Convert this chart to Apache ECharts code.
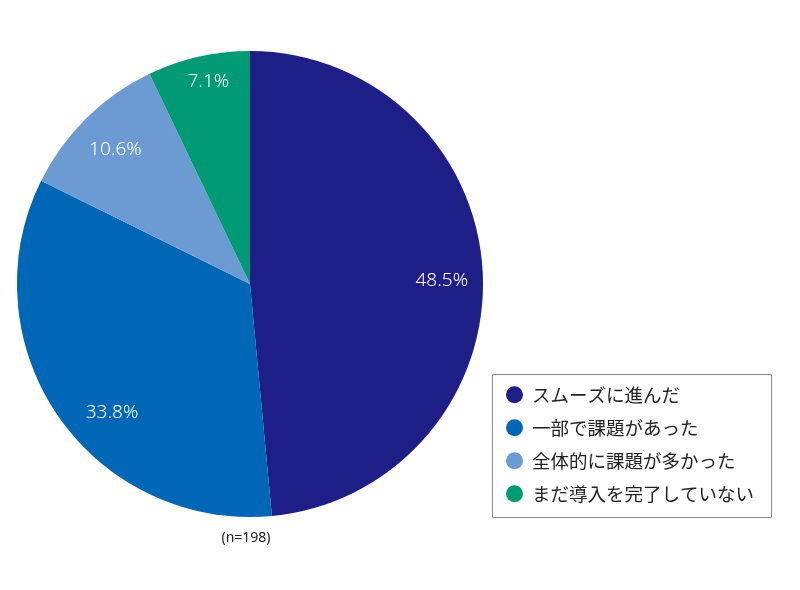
<!DOCTYPE html>
<html>
<head>
<meta charset="utf-8">
<script src="https://cdn.jsdelivr.net/npm/echarts@6/dist/echarts.min.js"></script>
<style>
  html, body { margin: 0; padding: 0; background: #fff; }
  #chart { width: 800px; height: 590px; }
</style>
</head>
<body>
<div id="chart"></div>
<script>
const categories = ['スムーズに進んだ', '一部で課題があった', '全体的に課題が多かった', 'まだ導入を完了していない'];
const shares = [48.5, 33.8, 10.6, 7.1];
const colors = ['#1e1e87', '#0066b6', '#6b9bd2', '#009a74'];
const sampleNote = '(n=198)';

// small nudges so the percentage labels sit where the original put them
const labelNudge = [[-1, 6], [21, 19], [1, 3], [1, -14]];

const jpFont = '"Noto Sans CJK JP", "Noto Sans", sans-serif';

echarts.init(document.getElementById('chart'))
    .setOption({
        animation: false,
        legend: {
            orient: 'vertical',
            left: 501,
            top: 380.5,
            icon: 'circle',
            itemWidth: 17,
            itemHeight: 17,
            itemGap: 14.5,
            selectedMode: false,
            data: categories,
            textStyle: {
                fontFamily: jpFont,
                fontSize: 18.5,
                color: '#222',
                padding: [0, 0, 0, 4]
            }
        },
        graphic: [
            {
                type: 'rect',
                shape: { x: 492.5, y: 374.5, width: 279, height: 143 },
                style: { fill: 'none', stroke: '#8a8a8a', lineWidth: 1 },
                silent: true
            },
            {
                type: 'text',
                x: 246,
                y: 538,
                style: {
                    text: sampleNote,
                    fontFamily: '"Noto Sans", sans-serif',
                    fontSize: 14,
                    fill: '#222',
                    align: 'center',
                    verticalAlign: 'middle'
                }
            }
        ],
        series: [
            {
                type: 'pie',
                center: [250, 284],
                radius: [0, 233],
                startAngle: 90,
                silent: true,
                label: { show: false },
                labelLine: { show: false },
                data: categories.map((name, i) => ({
                    name: name,
                    value: shares[i],
                    itemStyle: { color: colors[i] }
                }))
            },
            {
                type: 'pie',
                center: [250, 284],
                radius: [147, 233],
                startAngle: 90,
                silent: true,
                itemStyle: { color: 'rgba(0,0,0,0)' },
                label: {
                    show: true,
                    position: 'inside',
                    formatter: p => p.value.toFixed(1) + '%',
                    color: '#fff',
                    fontFamily: '"Noto Sans", sans-serif',
                    fontWeight: 300,
                    fontSize: 19
                },
                labelLine: { show: false },
                data: categories.map((name, i) => ({
                    name: name,
                    value: shares[i],
                    itemStyle: { color: 'rgba(0,0,0,0)' },
                    label: { offset: labelNudge[i] }
                }))
            }
        ]
    });
</script>
</body>
</html>
